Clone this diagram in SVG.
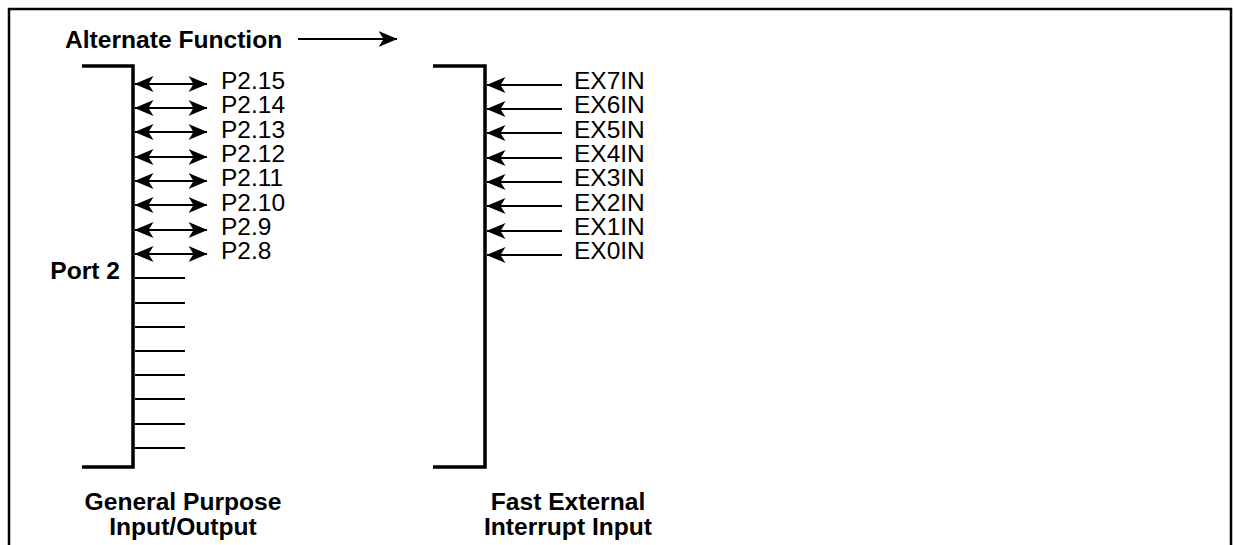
<svg xmlns="http://www.w3.org/2000/svg" width="1234" height="545" viewBox="0 0 1234 545">
<defs>
<style>
.t{font-family:"Liberation Sans",Arial,sans-serif;font-size:24.5px;fill:#000}
.b{font-weight:bold;font-size:24.6px}
.br{fill:none;stroke:#000;stroke-width:3.5}
.ln{stroke:#000;stroke-width:2;fill:none}
</style>
<marker id="ah" viewBox="0 0 19 16" refX="18.5" refY="8" markerWidth="19" markerHeight="16" markerUnits="userSpaceOnUse" orient="auto-start-reverse">
<path d="M0,0 L19,8 L0,16 L5,8 Z" fill="#000"/>
</marker>
</defs>
<rect x="0" y="0" width="1234" height="545" fill="#fff"/>
<path d="M9,548 V9 H1231 V548" fill="none" stroke="#000" stroke-width="2.5"/>
<g id="title">
<text class="t b" x="65" y="48">Alternate Function</text>
</g>
<g id="port2">
<path class="br" d="M82,66 H133 V467 H82"/>
<text class="t b" x="120" y="279" text-anchor="end">Port 2</text>
<text class="t b" x="183" y="510" text-anchor="middle">General Purpose</text>
<text class="t b" x="183" y="535" text-anchor="middle">Input/Output</text>
<g class="t">
<text x="221" y="89">P2.15</text>
<text x="221" y="113">P2.14</text>
<text x="221" y="138">P2.13</text>
<text x="221" y="162">P2.12</text>
<text x="221" y="186">P2.11</text>
<text x="221" y="211">P2.10</text>
<text x="221" y="235">P2.9</text>
<text x="221" y="259">P2.8</text>
</g>
</g>
<g id="exint">
<path class="br" d="M433,66 H485 V467 H433"/>
<text class="t b" x="568" y="510" text-anchor="middle">Fast External</text>
<text class="t b" x="568" y="535" text-anchor="middle">Interrupt Input</text>
<g class="t">
<text x="574" y="89">EX7IN</text>
<text x="574" y="113">EX6IN</text>
<text x="574" y="138">EX5IN</text>
<text x="574" y="162">EX4IN</text>
<text x="574" y="186">EX3IN</text>
<text x="574" y="211">EX2IN</text>
<text x="574" y="235">EX1IN</text>
<text x="574" y="259">EX0IN</text>
</g>
</g>
<g id="connectors">
<line class="ln" x1="298" y1="39" x2="397" y2="39" marker-end="url(#ah)"/>
<g marker-start="url(#ah)" marker-end="url(#ah)" class="ln">
<line x1="135" y1="84" x2="207" y2="84"/>
<line x1="135" y1="108" x2="207" y2="108"/>
<line x1="135" y1="132" x2="207" y2="132"/>
<line x1="135" y1="157" x2="207" y2="157"/>
<line x1="135" y1="181" x2="207" y2="181"/>
<line x1="135" y1="205" x2="207" y2="205"/>
<line x1="135" y1="230" x2="207" y2="230"/>
<line x1="135" y1="254" x2="207" y2="254"/>
</g>
<g class="ln">
<line x1="135" y1="278" x2="185" y2="278"/>
<line x1="135" y1="303" x2="185" y2="303"/>
<line x1="135" y1="327" x2="185" y2="327"/>
<line x1="135" y1="351" x2="185" y2="351"/>
<line x1="135" y1="375" x2="185" y2="375"/>
<line x1="135" y1="399" x2="185" y2="399"/>
<line x1="135" y1="424" x2="185" y2="424"/>
<line x1="135" y1="448" x2="185" y2="448"/>
</g>
<g marker-end="url(#ah)" class="ln">
<line x1="562" y1="85" x2="487" y2="85"/>
<line x1="562" y1="109" x2="487" y2="109"/>
<line x1="562" y1="133" x2="487" y2="133"/>
<line x1="562" y1="158" x2="487" y2="158"/>
<line x1="562" y1="182" x2="487" y2="182"/>
<line x1="562" y1="206" x2="487" y2="206"/>
<line x1="562" y1="231" x2="487" y2="231"/>
<line x1="562" y1="255" x2="487" y2="255"/>
</g>
</g>
</svg>
